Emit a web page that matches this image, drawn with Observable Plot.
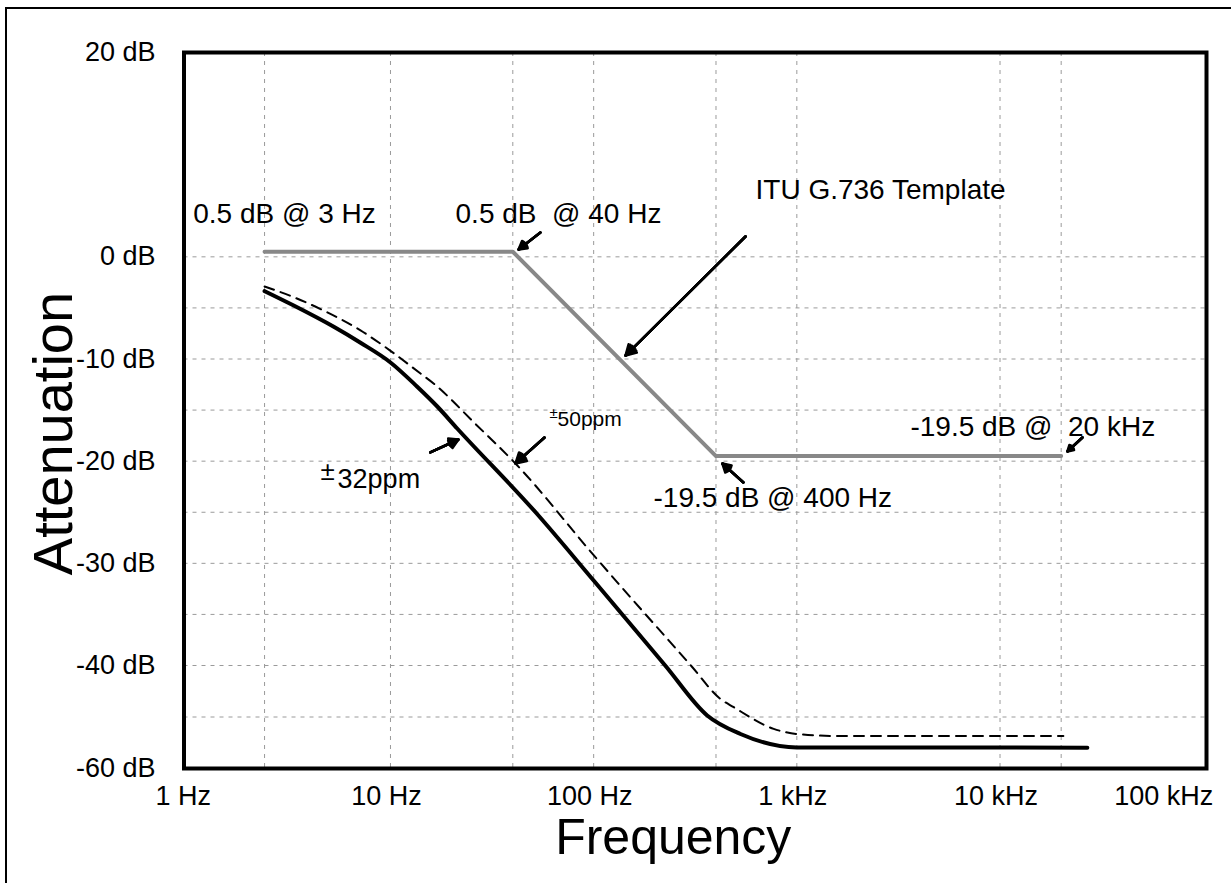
<!DOCTYPE html>
<html><head><meta charset="utf-8">
<script src="https://cdn.jsdelivr.net/npm/d3@7"></script>
<script src="https://cdn.jsdelivr.net/npm/@observablehq/plot@0.6"></script>
<style>
html,body{margin:0;padding:0;background:#fff;overflow:hidden;width:1231px;height:883px;}
#wrap{position:relative;width:1231px;height:883px;overflow:hidden;}
#border{position:absolute;left:5px;top:7px;width:1400px;height:1000px;border-left:2.5px solid #000;border-top:2.5px solid #000;}
#chart{position:absolute;left:0;top:0;}
svg text{white-space:pre;}
</style></head><body>
<div id="wrap"><div id="border"></div><div id="chart"></div></div>
<script>
// ---- data ----
const xTickValues = [1, 10, 100, 1000, 10000, 100000];
const xTickLabels = ["1 Hz", "10 Hz", "100 Hz", "1 kHz", "10 kHz", "100 kHz"];
const yTickValues = [20, 0, -10, -20, -30, -40, -60];
const yTickLabels = ["20 dB", "0 dB", "-10 dB", "-20 dB", "-30 dB", "-40 dB", "-60 dB"];
const gridFreq = [2.4, 10, 40, 100, 400, 1000, 10000, 20000];
const gridDb = [0, -5, -10, -15, -20, -25, -30, -35, -40, -50];

const templateFreq = [2.4, 40, 400, 20000];
const templateDb = [0.5, 0.5, -19.5, -19.5];

// ±32ppm (solid)
const solidFreq = [2.4, 3.34, 5.26, 7.12, 10, 13.5, 17, 21.3, 52.7, 100, 225, 362, 528, 1000, 26900];
const solidDb = [-3.36, -4.77, -6.85, -8.41, -10.34, -12.69, -14.65, -16.8, -25.17, -31.68, -40, -49.7, -53.3, -55.9, -55.95];

// ±50ppm (dashed)
const dashedFreq = [2.4, 3.34, 4.68, 7.12, 10, 14, 16.3, 26.2, 42, 100, 301, 421, 489, 769, 1000, 1640, 20500];
const dashedDb = [-2.9, -3.95, -5.25, -7.2, -9.2, -11.4, -12.4, -16.36, -20.4, -29.2, -40, -46.5, -48.1, -52.3, -53.3, -53.7, -53.7];

const annoText = ["0.5 dB @ 3 Hz", "0.5 dB  @ 40 Hz", "ITU G.736 Template", "-19.5 dB @ 400 Hz", "-19.5 dB @  20 kHz"];
const annoFreq = [1.07, 20.9, 626, 197, 3623];
const annoDb = [4.2, 4.2, 6.5, -23.65, -16.7];

const ppmText = ["32ppm", "50ppm"];
const ppmFreq = [5.49, 66.4];
const ppmDb = [-21.8, -15.9];
const ppmSize = [27, 21];

const pmText = ["±", "±"];
const pmFreq = [4.52, 60.6];
const pmDb = [-21.0, -15.3];
const pmSize = [26, 15];

const arrowFreq1 = [54.7, 559, 57.3, 15.7, 546, 25450];
const arrowDb1 = [2.38, 1.99, -17.68, -19.15, -22.09, -17.68];
const arrowFreq2 = [42.7, 143.5, 41.2, 21.6, 430, 21460];
const arrowDb2 = [0.72, -9.66, -20.23, -17.88, -20.23, -19.05];

const xTitle = "Frequency";
const yTitle = "Attenuation";

// ---- tables ----
const toRows = (fs, ds) => fs.map((f, i) => ({f, db: ds[i]}));
const template = toRows(templateFreq, templateDb);
const solid = toRows(solidFreq, solidDb);
const dashed = toRows(dashedFreq, dashedDb);
const annos = annoText.map((t, i) => ({t, f: annoFreq[i], db: annoDb[i]}));
const ppms = ppmText.map((t, i) => ({t, f: ppmFreq[i], db: ppmDb[i], s: ppmSize[i]}));
const pms = pmText.map((t, i) => ({t, f: pmFreq[i], db: pmDb[i], s: pmSize[i]}));
const arrows = arrowFreq1.map((f1, i) => ({f1, d1: arrowDb1[i], f2: arrowFreq2[i], d2: arrowDb2[i]}));

const fmtX = d => xTickLabels[xTickValues.indexOf(d)];
const fmtY = d => yTickLabels[yTickValues.indexOf(d)];
const gridStyle = {stroke: "#9a9a9a", strokeWidth: 1, strokeDasharray: "4,5"};
const arrowMarks = [60, 42, 24, 8].map(a => Plot.arrow(arrows, {
  x1: "f1", y1: "d1", x2: "f2", y2: "d2", stroke: "#000", strokeWidth: 2.5,
  headAngle: a, headLength: 7
}));

const chart = Plot.plot({
  width: 1231, height: 883,
  marginLeft: 183.5, marginRight: 25, marginTop: 52, marginBottom: 115,
  style: {fontFamily: "'Liberation Sans', Arial, Helvetica, sans-serif", background: "transparent", color: "#000"},
  x: {type: "log", domain: [1, 100000], range: [186.8, 1202.7]},
  y: {type: "linear", domain: [-60, -40, 20], range: [768, 665, 52]},
  marks: [
    Plot.ruleX(gridFreq, gridStyle),
    Plot.ruleY(gridDb, gridStyle),
    Plot.line(template, {x: "f", y: "db", stroke: "#888", strokeWidth: 4}),
    Plot.line(dashed, {x: "f", y: "db", stroke: "#000", strokeWidth: 2, strokeDasharray: "10,7", curve: "monotone-x"}),
    Plot.line(solid, {x: "f", y: "db", stroke: "#000", strokeWidth: 4, curve: "monotone-x"}),
    Plot.frame({stroke: "#000", strokeWidth: 4}),
    Plot.axisY(yTickValues, {anchor: "left", tickSize: 0, tickPadding: 28.5, fontSize: 27, tickFormat: fmtY, label: null}),
    Plot.axisX(xTickValues.slice(0, 5), {anchor: "bottom", tickSize: 0, tickPadding: 17, fontSize: 27, tickFormat: fmtX, dx: -4, label: null}),
    Plot.axisX(xTickValues.slice(5), {anchor: "bottom", tickSize: 0, tickPadding: 17, fontSize: 27, tickFormat: fmtX, textAnchor: "end", dx: 10, label: null}),
    Plot.text([xTitle], {text: d => d, frameAnchor: "bottom", lineAnchor: "bottom", dy: 85, dx: -22, fontSize: 50}),
    Plot.text([yTitle], {text: d => d, frameAnchor: "left", rotate: -90, textAnchor: "middle", lineAnchor: "bottom", dx: -112.5, dy: 23, fontSize: 56}),
    Plot.text(annos, {x: "f", y: "db", text: "t", textAnchor: "start", lineAnchor: "middle", fontSize: 28}),
    Plot.text(ppms, {x: "f", y: "db", text: "t", textAnchor: "start", lineAnchor: "middle", fontSize: "s"}),
    Plot.text(pms, {x: "f", y: "db", text: "t", textAnchor: "start", lineAnchor: "middle", fontSize: "s"}),
    ...arrowMarks
  ]
});
document.getElementById("chart").appendChild(chart);
</script>
</body></html>
